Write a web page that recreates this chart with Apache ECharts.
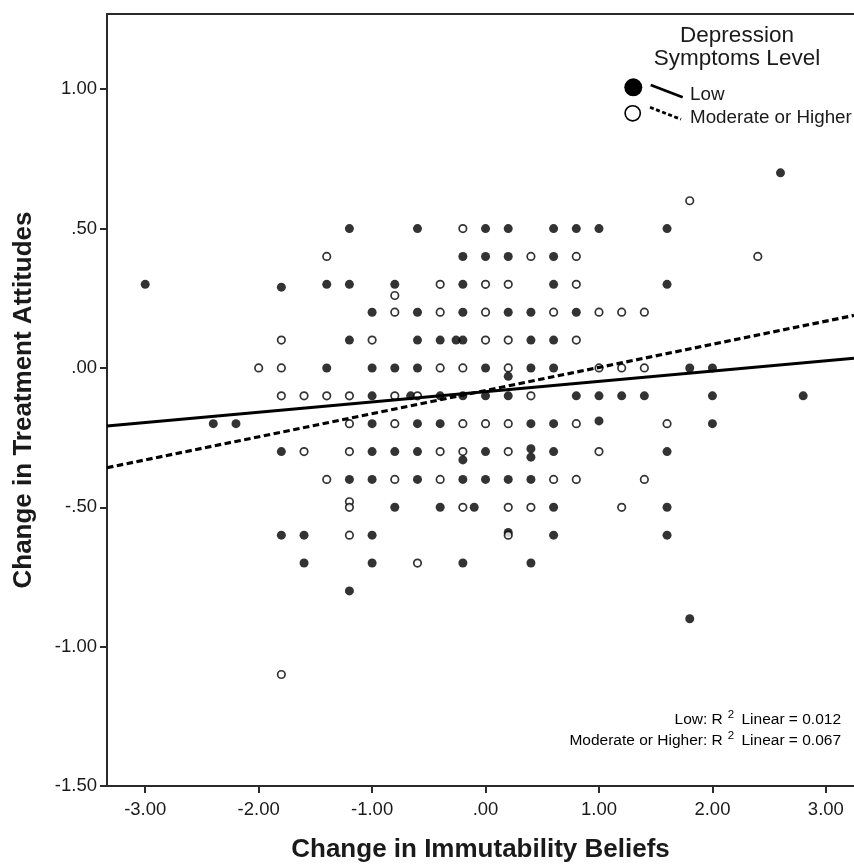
<!DOCTYPE html>
<html><head><meta charset="utf-8">
<script src="https://cdn.jsdelivr.net/npm/echarts@6/dist/echarts.min.js"></script>
<style>html,body{margin:0;padding:0;background:#fff}#c{width:854px;height:865px}</style>
</head><body><div id="c"></div>
<script>
const xTicks = [-3, -2, -1, 0, 1, 2, 3];
const xTickLabels = ['-3.00', '-2.00', '-1.00', '.00', '1.00', '2.00', '3.00'];
const yTicks = [-1.5, -1, -0.5, 0, 0.5, 1];
const yTickLabels = ['-1.50', '-1.00', '-.50', '.00', '.50', '1.00'];
const xTitle = 'Change in Immutability Beliefs';
const yTitle = 'Change in Treatment Attitudes';
const legendTitle = ['Depression', 'Symptoms Level'];
const groupNames = ['Low', 'Moderate or Higher'];
const fitIntercepts = [-0.085, -0.081];
const fitSlopes = [0.037, 0.083];
const r2Values = ['0.012', '0.067'];

const lowPoints = [
  [-3.0, 0.3], [-2.4, -0.2], [-2.2, -0.2], [-1.8, 0.29], [-1.8, -0.3], [-1.8, -0.6],
  [-1.6, -0.6], [-1.6, -0.7], [-1.4, 0.3], [-1.4, 0], [-1.2, 0.5], [-1.2, 0.3],
  [-1.2, 0.1], [-1.2, -0.4], [-1.2, -0.8], [-1.0, 0.2], [-1.0, 0], [-1.0, -0.1],
  [-1.0, -0.2], [-1.0, -0.3], [-1.0, -0.4], [-1.0, -0.6], [-1.0, -0.7], [-0.8, 0.3],
  [-0.8, 0], [-0.8, -0.3], [-0.8, -0.5], [-0.6, 0.5], [-0.6, 0.2], [-0.6, 0.1],
  [-0.6, 0], [-0.66, -0.1], [-0.6, -0.2], [-0.6, -0.3], [-0.6, -0.4], [-0.4, 0.1],
  [-0.4, -0.1], [-0.4, -0.2], [-0.4, -0.5], [-0.26, 0.1], [-0.2, 0.4], [-0.2, 0.3],
  [-0.2, 0.2], [-0.2, 0.1], [-0.2, -0.1], [-0.2, -0.33], [-0.2, -0.4], [-0.2, -0.7],
  [-0.1, -0.5], [0, 0.5], [0, 0.4], [0, 0], [0, -0.1], [0, -0.3], [0, -0.4],
  [0.2, 0.5], [0.2, 0.4], [0.2, 0.2], [0.2, -0.03], [0.2, -0.1], [0.2, -0.4], [0.2, -0.59],
  [0.4, 0.2], [0.4, 0.1], [0.4, 0], [0.4, -0.2], [0.4, -0.29], [0.4, -0.32], [0.4, -0.4],
  [0.4, -0.7], [0.6, 0.5], [0.6, 0.4], [0.6, 0.3], [0.6, 0.1], [0.6, 0], [0.6, -0.2],
  [0.6, -0.3], [0.6, -0.5], [0.6, -0.6], [0.8, 0.5], [0.8, 0.2], [0.8, -0.1],
  [1.0, 0.5], [1.0, -0.1], [1.0, -0.19], [1.2, -0.1], [1.4, -0.1], [1.6, 0.5],
  [1.6, 0.3], [1.6, -0.3], [1.6, -0.5], [1.6, -0.6], [1.8, 0], [1.8, -0.9],
  [2.0, 0], [2.0, -0.1], [2.0, -0.2], [2.6, 0.7], [2.8, -0.1]
];
const modPoints = [
  [-2.0, 0], [-1.8, 0.1], [-1.8, 0], [-1.8, -0.1], [-1.8, -1.1], [-1.6, -0.1], [-1.6, -0.3],
  [-1.4, 0.4], [-1.4, -0.1], [-1.4, -0.4], [-1.2, -0.1], [-1.2, -0.2], [-1.2, -0.3],
  [-1.2, -0.48], [-1.2, -0.5], [-1.2, -0.6], [-1.0, 0.1], [-0.8, 0.26], [-0.8, 0.2],
  [-0.8, -0.1], [-0.8, -0.2], [-0.8, -0.4], [-0.6, -0.1], [-0.6, -0.7], [-0.4, 0.3],
  [-0.4, 0.2], [-0.4, 0], [-0.4, -0.3], [-0.4, -0.4], [-0.2, 0.5], [-0.2, 0], [-0.2, -0.2],
  [-0.2, -0.3], [-0.2, -0.5], [0, 0.3], [0, 0.2], [0, 0.1], [0, -0.2], [0.2, 0.3],
  [0.2, 0.1], [0.2, 0], [0.2, -0.2], [0.2, -0.3], [0.2, -0.5], [0.2, -0.6], [0.4, 0.4],
  [0.4, -0.1], [0.4, -0.5], [0.6, 0.2], [0.6, -0.4], [0.8, 0.4], [0.8, 0.3], [0.8, 0.1],
  [0.8, -0.2], [0.8, -0.4], [1.0, 0.2], [1.0, 0], [1.0, -0.3], [1.2, 0.2], [1.2, 0],
  [1.2, -0.5], [1.4, 0.2], [1.4, 0], [1.4, -0.4], [1.6, -0.2], [1.8, 0.6], [2.4, 0.4]
];

const X_MIN = -3.337, X_MAX = 3.248, Y_MIN = -1.5, Y_MAX = 1.27;
const FONT = "'Liberation Sans', Arial, sans-serif";
const INK = '#1a1a1a';
const AXIS = '#2a2a2a';

function fitLine(i) {
  return [[X_MIN, fitIntercepts[i] + fitSlopes[i] * X_MIN],
          [X_MAX, fitIntercepts[i] + fitSlopes[i] * X_MAX]];
}
function r2Text(i) {
  return '{a|' + groupNames[i] + ': R}{s|2}{a| Linear = ' + r2Values[i] + '}';
}
const r2Rich = {
  a: { fontFamily: FONT, fontSize: 15.5, color: INK },
  s: { fontFamily: FONT, fontSize: 11.5, color: INK, padding: [0, 3, 9, 5] }
};

const chart = echarts.init(document.getElementById('c'), null, { renderer: 'canvas' });
chart.setOption({
  animation: false,
  backgroundColor: '#fff',
  grid: { left: 107, top: 14, right: 0, bottom: 79, outerBoundsMode: 'none', containLabel: false },
  xAxis: [{
    type: 'value', min: X_MIN, max: X_MAX, position: 'bottom',
    name: xTitle, nameLocation: 'middle', nameGap: 51,
    nameTextStyle: { fontFamily: FONT, fontSize: 26, fontWeight: 'bold', color: INK },
    axisLine: { show: true, onZero: false, lineStyle: { color: AXIS, width: 2 } },
    axisTick: { show: true, length: 7, customValues: xTicks, lineStyle: { color: AXIS, width: 2 } },
    axisLabel: { customValues: xTicks, margin: 14, fontFamily: FONT, fontSize: 18.5, color: INK,
      formatter: v => xTickLabels[xTicks.indexOf(v)] },
    splitLine: { show: false }
  }, {
    type: 'value', min: X_MIN, max: X_MAX, position: 'top',
    axisLine: { show: true, onZero: false, lineStyle: { color: AXIS, width: 2 } },
    axisTick: { show: false }, axisLabel: { show: false }, splitLine: { show: false }
  }],
  yAxis: {
    type: 'value', min: Y_MIN, max: Y_MAX,
    name: yTitle, nameLocation: 'middle', nameGap: 70,
    nameTextStyle: { fontFamily: FONT, fontSize: 26, fontWeight: 'bold', color: INK },
    axisLine: { show: true, onZero: false, lineStyle: { color: AXIS, width: 2 } },
    axisTick: { show: true, length: 7, customValues: yTicks, lineStyle: { color: AXIS, width: 2 } },
    axisLabel: { customValues: yTicks, margin: 10, fontFamily: FONT, fontSize: 18.5, color: INK,
      formatter: v => yTickLabels[yTicks.indexOf(v)] },
    splitLine: { show: false }
  },
  series: [
    { name: groupNames[0], type: 'scatter', data: lowPoints, symbol: 'circle', symbolSize: 9,
      itemStyle: { color: '#000' }, z: 3 },
    { name: groupNames[1], type: 'scatter', data: modPoints, symbol: 'circle', symbolSize: 7.5,
      itemStyle: { color: '#fff', borderColor: '#000', borderWidth: 1.7 }, z: 3 },
    { name: groupNames[0] + ' fit', type: 'line', data: fitLine(0), symbol: 'none', z: 4,
      lineStyle: { color: '#000', width: 3, type: 'solid' } },
    { name: groupNames[1] + ' fit', type: 'line', data: fitLine(1), symbol: 'none', z: 4,
      lineStyle: { color: '#000', width: 3.2, type: [6.5, 3.5] } }
  ],
  graphic: [
    { type: 'text', x: 737, y: 36, style: { text: legendTitle[0], font: "22.5px " + FONT, fill: INK, textAlign: 'center', textVerticalAlign: 'middle' } },
    { type: 'text', x: 737, y: 59, style: { text: legendTitle[1], font: "22.5px " + FONT, fill: INK, textAlign: 'center', textVerticalAlign: 'middle' } },
    { type: 'circle', shape: { cx: 633.3, cy: 87.3, r: 9 }, style: { fill: '#000' } },
    { type: 'circle', shape: { cx: 632.7, cy: 113.3, r: 7.6 }, style: { fill: '#fff', stroke: '#000', lineWidth: 1.6 } },
    { type: 'line', shape: { x1: 650.7, y1: 85, x2: 682.7, y2: 97.3 }, style: { stroke: '#000', lineWidth: 2.8 } },
    { type: 'line', shape: { x1: 650, y1: 107.3, x2: 681, y2: 119.3 }, style: { stroke: '#000', lineWidth: 2.8, lineDash: [4, 2.5] } },
    { type: 'text', x: 690, y: 94.5, style: { text: groupNames[0], font: "18.8px " + FONT, fill: INK, textVerticalAlign: 'middle' } },
    { type: 'text', x: 690, y: 117.5, style: { text: groupNames[1], font: "18.8px " + FONT, fill: INK, textVerticalAlign: 'middle' } },
    { type: 'text', x: 841, y: 719.5, style: { text: r2Text(0), rich: r2Rich, textAlign: 'right', textVerticalAlign: 'middle' } },
    { type: 'text', x: 841, y: 740.5, style: { text: r2Text(1), rich: r2Rich, textAlign: 'right', textVerticalAlign: 'middle' } }
  ]
});
</script></body></html>
